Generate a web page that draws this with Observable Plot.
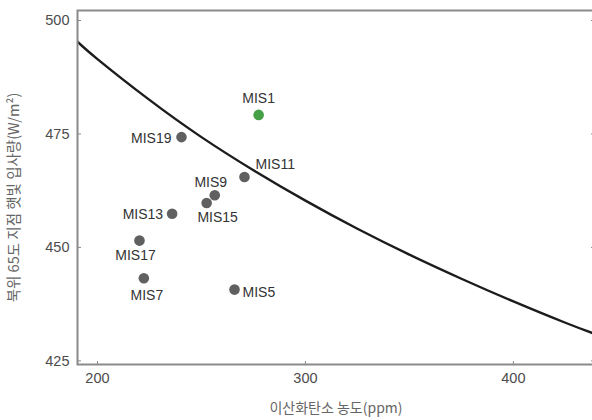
<!DOCTYPE html>
<html>
<head>
<meta charset="utf-8">
<script src="https://cdn.jsdelivr.net/npm/d3@7"></script>
<script src="https://cdn.jsdelivr.net/npm/@observablehq/plot@0.6"></script>
<style>
  html, body { margin: 0; padding: 0; background: #fff; overflow: hidden; }
  #chart { width: 592px; height: 420px; overflow: hidden; }
  #chart svg { max-width: none !important; }
</style>
</head>
<body>
<div id="chart"></div>
<script>
// Marine isotope stages: CO2 concentration (ppm) and 65°N insolation (W/m²)
const stageNames = ["MIS1", "MIS19", "MIS11", "MIS9", "MIS15", "MIS13", "MIS17", "MIS7", "MIS5"];
const stageCO2 = [277.5, 240.4, 270.7, 256.4, 252.5, 235.9, 220.2, 222.3, 265.9];
const stageInsolation = [479.2, 474.3, 465.5, 461.5, 459.8, 457.4, 451.5, 443.2, 440.7];

// Threshold curve: insolation needed versus CO2
const curveCO2 = [190, 200, 225, 250, 275, 300, 325, 350, 375, 400, 425, 440];
const curveInsolation = [495.5, 491.5, 482.5, 474.3, 467.0, 460.3, 454.1, 448.4, 443.1, 438.1, 433.4, 430.8];

// Axis ticks and titles
const xTicks = [200, 300, 400];
const yTicks = [425, 450, 475, 500];
const xTitle = "이산화탄소 농도(ppm)";
const yTitle = "북위 65도 지점 햇빛 입사량(W/m²)";

const stages = stageNames.map((name, i) => ({name, co2: stageCO2[i], insolation: stageInsolation[i]}));
const curve = curveCO2.map((co2, i) => ({co2, insolation: curveInsolation[i]}));

// Where each stage's label sits relative to its dot: [dx, dy, textAnchor]
const labelPlacement = {
  MIS1:  [0, -16, "middle"],
  MIS19: [-10, 1.5, "end"],
  MIS11: [11, -13, "start"],
  MIS9:  [-4, -13, "middle"],
  MIS15: [11, 14.5, "middle"],
  MIS13: [-9, 1, "end"],
  MIS17: [-4, 15, "middle"],
  MIS7:  [3, 17, "middle"],
  MIS5:  [8, 3, "start"]
};

const labelFont = "'Liberation Sans', Arial, Helvetica, sans-serif";
const korFont = "'Noto Sans CJK KR', 'Noto Sans', sans-serif";
const frameGray = "#8a8a8a";
const tickText = "#4d4d4d";

const stageLabels = stages.map(s => {
  const [dx, dy, anchor] = labelPlacement[s.name];
  return Plot.text([s], {
    x: "co2", y: "insolation", text: "name",
    dx, dy, textAnchor: anchor, lineAnchor: "middle",
    fill: "#333", fontSize: 14, fontFamily: labelFont
  });
});

const chart = Plot.plot({
  width: 600,
  height: 420,
  marginTop: 10,
  marginBottom: 56,
  marginLeft: 77,
  marginRight: 6,
  x: {domain: [190.4, 439]},
  y: {domain: [424.2, 502.2]},
  style: {fontFamily: labelFont, fontSize: "14px", color: tickText, background: "#fff"},
  marks: [
    Plot.axisY({ticks: yTicks, tickSize: -4, tickPadding: 12, label: null, stroke: frameGray, fill: tickText, fontSize: 14.5}),
    Plot.axisY({anchor: "right", ticks: yTicks, tickSize: -4, tickFormat: () => "", label: null, stroke: frameGray}),
    Plot.axisX({ticks: xTicks, tickSize: 0, tickPadding: 8, label: null, fill: tickText, fontSize: 14.5}),
    Plot.axisX({ticks: xTicks, tickSize: -3, tickFormat: () => "", label: null, stroke: frameGray}),
    Plot.line(curve, {x: "co2", y: "insolation", stroke: "#1c1c1c", strokeWidth: 2.4, curve: "natural", clip: true}),
    Plot.dot(stages.filter(s => s.name !== "MIS1"), {x: "co2", y: "insolation", r: 5.3, fill: "#606060"}),
    Plot.dot(stages.filter(s => s.name === "MIS1"), {x: "co2", y: "insolation", r: 5.3, fill: "#45a047"}),
    ...stageLabels,
    Plot.frame({stroke: frameGray, strokeWidth: 2}),
    Plot.text([xTitle], {text: d => d, frameAnchor: "bottom", dy: 44, textAnchor: "middle", fill: "#666", fontSize: 14, fontFamily: korFont, lineAnchor: "middle"}),
    Plot.text([yTitle], {text: d => d, frameAnchor: "left", dx: -63, dy: 10, rotate: -90, textAnchor: "middle", fill: "#666", fontSize: 14.5, fontFamily: korFont, lineAnchor: "middle", letterSpacing: "1.5px"})
  ]
});

chart.style.maxWidth = "none";
document.getElementById("chart").append(chart);
</script>
</body>
</html>
